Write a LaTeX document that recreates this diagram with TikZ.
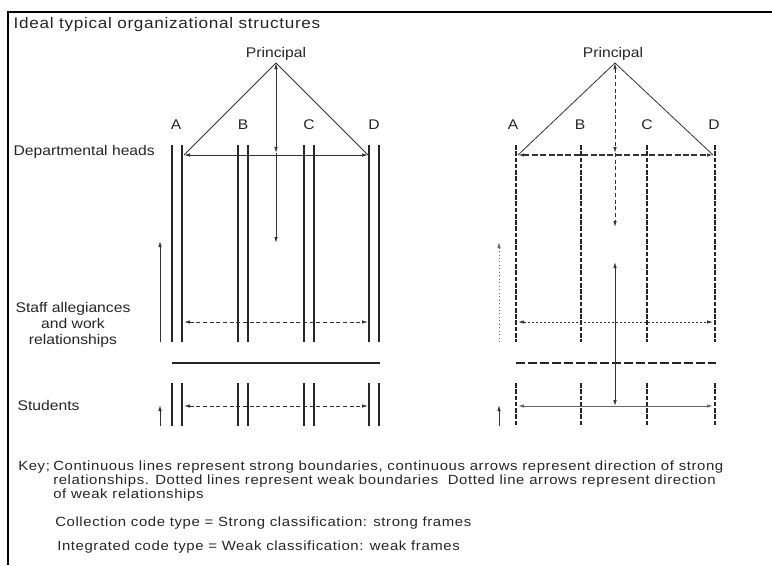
\documentclass[tikz,border=0pt]{standalone}
\usepackage{fontspec}
\setmainfont{Liberation Sans}
\newfontfamily\labelfont[FakeStretch=1.12]{Liberation Sans}
\newfontfamily\spacedfont[FakeStretch=1.12,LetterSpace=4.5]{Liberation Sans}
\usetikzlibrary{arrows.meta}

\begin{document}
\begin{tikzpicture}[
    x=0.75pt, y=-0.75pt,
    >={Latex[length=4.5pt,width=2.6pt]},
    lbl/.style={font=\labelfont\fontsize{10.5}{12}\selectfont, inner sep=1pt, text=black!85},
    keytext/.style={font=\spacedfont\fontsize{10}{10.5}\selectfont, inner sep=0pt, align=left, text=black!85},
    wall/.style={line width=1.1pt, black!85},
    weakwall/.style={line width=1.1pt, black!85, dash pattern=on 3.5pt off 1.2pt},
    rel/.style={line width=0.6pt, black!80},
    weakrel/.style={line width=0.6pt, black!80, dash pattern=on 3pt off 2pt},
]
\useasboundingbox (0,0) rectangle (772,565);

% frame
\draw[line width=2pt] (7,12) -- (772,12);
\draw[line width=2.2pt] (8,11) -- (8,565);
\node[lbl, font=\spacedfont\fontsize{11.5}{13}\selectfont, anchor=west] (title) at (12,25) {Ideal typical organizational structures};

% row labels
\node[lbl, anchor=west] (heads) at (12,152) {Departmental heads};
\node[lbl, align=center] (staff) at (73,325) {Staff allegiances\\and work\\relationships};
\node[lbl, anchor=west] (students) at (16,405) {Students};

% left: collection code
\node[lbl] (lprin) at (276,54) {Principal};
\node[lbl] (lA) at (176,125) {A};
\node[lbl] (lB) at (243,125) {B};
\node[lbl] (lC) at (309,125) {C};
\node[lbl] (lD) at (374,125) {D};
\coordinate (ltop) at (276,63);
\coordinate (lah) at (184,155);
\coordinate (ldh) at (368,155);
\coordinate (lmid) at (276,153);
\coordinate (lend) at (276,243);
\coordinate (las) at (184,322);
\coordinate (lds) at (368,322);
\coordinate (lat) at (184,406);
\coordinate (ldt) at (368,406);
\coordinate (lup) at (160,342);
\coordinate (lupend) at (160,241);
\coordinate (lsup) at (160,426);
\coordinate (lsupend) at (160,405);

\draw[wall] (172,145) -- (172,342) (182,145) -- (182,342)
            (238,145) -- (238,342) (248,145) -- (248,342)
            (304,145) -- (304,342) (314,145) -- (314,342)
            (369,145) -- (369,342) (379,145) -- (379,342);
\draw[wall, line width=0.8pt] (172,363) -- (380,363);
\draw[wall] (172,383) -- (172,426) (182,383) -- (182,426)
            (238,383) -- (238,426) (248,383) -- (248,426)
            (304,383) -- (304,426) (314,383) -- (314,426)
            (369,383) -- (369,426) (379,383) -- (379,426);

\draw[rel] (lah) -- (ltop) -- (ldh);
\draw[rel, <->] (lah) -- (ldh);
\draw[rel, <->] (ltop) -- (lmid);
\draw[rel, ->] (lmid) -- (lend);
\draw[weakrel, <->] (las) -- (lds);
\draw[weakrel, <->] (lat) -- (ldt);
\draw[rel, ->] (lup) -- (lupend);
\draw[rel, ->] (lsup) -- (lsupend);

% right: integrated code
\node[lbl] (rprin) at (613,54) {Principal};
\node[lbl] (rA) at (513,125) {A};
\node[lbl] (rB) at (580,125) {B};
\node[lbl] (rC) at (647,125) {C};
\node[lbl] (rD) at (714,125) {D};
\coordinate (rtop) at (615,63);
\coordinate (rah) at (518,155);
\coordinate (rdh) at (713,155);
\coordinate (rmid) at (615,153);
\coordinate (rend) at (615,227);
\coordinate (rlow) at (615,262);
\coordinate (rstu) at (615,406);
\coordinate (ras) at (518,322);
\coordinate (rds) at (713,322);
\coordinate (rat) at (518,406);
\coordinate (rdt) at (713,406);
\coordinate (rup) at (499,342);
\coordinate (rupend) at (499,242);
\coordinate (rsup) at (499,426);
\coordinate (rsupend) at (499,405);

\draw[weakwall] (516,145) -- (516,342) (581,145) -- (581,342)
                (647,145) -- (647,342) (715,145) -- (715,342);
\draw[weakwall, dash pattern=on 6.5pt off 2.5pt] (516,363) -- (716,363);
\draw[weakwall] (516,383) -- (516,426) (581,383) -- (581,426)
                (647,383) -- (647,426) (715,383) -- (715,426);

\draw[rel] (rah) -- (rtop) -- (rdh);
\draw[weakrel, line width=0.8pt, dash pattern=on 4.5pt off 1.8pt, <->] (rah) -- (rdh);
\draw[weakrel, <->] (rtop) -- (rmid);
\draw[weakrel, ->] (rmid) -- (rend);
\draw[rel, <->] (rlow) -- (rstu);
\draw[weakrel, dash pattern=on 2pt off 1pt, <->] (ras) -- (rds);
\draw[rel, black!60, <->] (rat) -- (rdt);
\draw[rel, black!60, dotted, ->] (rup) -- (rupend);
\draw[rel, ->] (rsup) -- (rsupend);

% key
\node[keytext, anchor=north west] (keyhead) at (18,461) {Key;};
\node[keytext, anchor=north west] (key) at (53,461)
    {Continuous lines represent strong boundaries, continuous arrows represent direction of strong\\
     relationships. Dotted lines represent weak boundaries\ \ Dotted line arrows represent\ direction\\
     of weak relationships};
\node[keytext, anchor=west] (coll) at (55,523) {Collection code type = Strong classification: strong frames};
\node[keytext, anchor=west] (integ) at (57,547) {Integrated code type = Weak classification: weak frames};
\end{tikzpicture}
\end{document}
